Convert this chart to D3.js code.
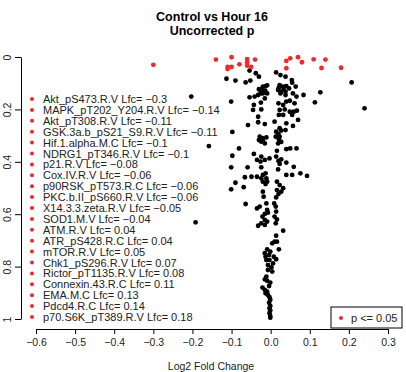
<!DOCTYPE html>
<html>
<head>
<meta charset="utf-8">
<script src="https://cdn.jsdelivr.net/npm/d3@7"></script>
<style>
  body { margin: 0; background: #fff; }
  svg { font-family: "Liberation Sans", Arial, sans-serif; }
</style>
</head>
<body>
<div id="chart"></div>
<script>
// significant proteins (p <= 0.05), sorted by log2 fold change
const sigNames = ["Akt_pS473.R.V", "MAPK_pT202_Y204.R.V", "Akt_pT308.R.V", "GSK.3a.b_pS21_S9.R.V",
  "Hif.1.alpha.M.C", "NDRG1_pT346.R.V", "p21.R.V", "Cox.IV.R.V", "p90RSK_pT573.R.C",
  "PKC.b.II_pS660.R.V", "X14.3.3.zeta.R.V", "SOD1.M.V", "ATM.R.V", "ATR_pS428.R.C",
  "mTOR.R.V", "Chk1_pS296.R.V", "Rictor_pT1135.R.V", "Connexin.43.R.C", "EMA.M.C",
  "Pdcd4.R.C", "p70.S6K_pT389.R.V"];
const sigLfc = [-0.3, -0.14, -0.11, -0.11, -0.1, -0.1, -0.08, -0.06, -0.06, -0.06, -0.05, -0.04,
  0.04, 0.04, 0.05, 0.07, 0.08, 0.11, 0.13, 0.14, 0.18];
const sigP = [0.030, 0.010, 0.046, 0.038, 0.001, 0.038, 0.028, 0.008, 0.033, 0.020, 0.038, 0.010,
  0.043, 0.015, 0.005, 0.001, 0.020, 0.009, 0.042, 0.010, 0.041];

// everything else (p > 0.05)
const otherLfc = [-0.054, -0.038, -0.030, 0.014, 0.025, 0.038, -0.113, -0.090, -0.064, -0.052,
  0.054, 0.055, 0.207, -0.009, -0.020, -0.030, -0.024, -0.013, -0.032, -0.020,
  0.023, 0.032, 0.040, 0.019, 0.027, 0.047, 0.064, 0.025, 0.038, 0.057,
  0.066, 0.084, 0.127, -0.203, -0.054, -0.041, -0.015, -0.101, -0.025, -0.043,
  0.040, 0.049, 0.061, 0.113, 0.020, 0.032, -0.045, -0.024, 0.023, 0.036,
  0.049, 0.059, 0.067, -0.032, 0.021, 0.032, 0.055, 0.070, -0.058, -0.032,
  -0.015, 0.010, 0.040, 0.057, 0.023, 0.014, 0.027, 0.038, -0.098, -0.028,
  -0.020, -0.011, -0.024, -0.015, 0.013, 0.021, 0.019, 0.027, -0.158, -0.081,
  0.016, 0.040, 0.050, 0.066, -0.098, -0.043, -0.024, -0.035, -0.026, -0.015,
  -0.003, 0.014, 0.020, 0.027, 0.040, 0.023, -0.101, -0.059, -0.024, 0.019,
  0.059, -0.066, -0.049, -0.035, -0.020, -0.013, -0.011, -0.020, -0.013, 0.040,
  0.055, 0.076, 0.093, -0.090, -0.069, -0.101, 0.016, 0.023, 0.032, 0.027,
  0.020, 0.014, -0.020, -0.018, -0.064, -0.035, -0.028, -0.011, -0.009, -0.015,
  -0.007, 0.009, 0.013, 0.014, 0.010, 0.016, -0.192, -0.015, -0.024, -0.015,
  -0.032, 0.013, 0.032, 0.014, 0.010, 0.004, 0.016, 0.021, -0.009, -0.015,
  -0.013, -0.004, 0.008, -0.003, 0.014, -0.007, 0.002, -0.007, 0.004, -0.015,
  -0.009, -0.001, -0.021, -0.015, -0.009, -0.007, -0.003, -0.001, -0.004, -0.001,
  -0.003, -0.001, -0.003, -0.001, -0.001, 0.240,
  -0.021, -0.014, -0.026, -0.009, 0.033, 0.038, 0.021, -0.030, -0.020, 0.020,
  0.023, -0.024, -0.009, 0.016, -0.021, -0.009, -0.001, 0.006, -0.011, -0.011,
  -0.004, -0.013];
const otherP = [0.052, 0.062, 0.075, 0.059, 0.069, 0.075, 0.083, 0.090, 0.097, 0.090,
  0.088, 0.098, 0.097, 0.108, 0.113, 0.123, 0.132, 0.111, 0.145, 0.139,
  0.107, 0.113, 0.111, 0.126, 0.132, 0.120, 0.113, 0.139, 0.145, 0.139,
  0.151, 0.145, 0.135, 0.151, 0.154, 0.151, 0.158, 0.170, 0.174, 0.183,
  0.170, 0.167, 0.177, 0.173, 0.177, 0.183, 0.202, 0.200, 0.202, 0.200,
  0.209, 0.209, 0.205, 0.228, 0.221, 0.221, 0.221, 0.240, 0.260, 0.249,
  0.256, 0.247, 0.253, 0.263, 0.272, 0.285, 0.281, 0.279, 0.286, 0.304,
  0.310, 0.307, 0.323, 0.330, 0.304, 0.314, 0.330, 0.324, 0.340, 0.349,
  0.358, 0.352, 0.349, 0.349, 0.377, 0.370, 0.380, 0.393, 0.399, 0.393,
  0.387, 0.380, 0.397, 0.391, 0.403, 0.408, 0.421, 0.421, 0.421, 0.429,
  0.419, 0.459, 0.457, 0.457, 0.450, 0.444, 0.463, 0.476, 0.485, 0.450,
  0.450, 0.444, 0.454, 0.480, 0.497, 0.505, 0.476, 0.489, 0.501, 0.514,
  0.523, 0.536, 0.514, 0.533, 0.561, 0.578, 0.571, 0.559, 0.584, 0.599,
  0.594, 0.559, 0.571, 0.590, 0.609, 0.620, 0.631, 0.622, 0.635, 0.641,
  0.644, 0.635, 0.663, 0.682, 0.705, 0.711, 0.705, 0.734, 0.734, 0.749,
  0.762, 0.756, 0.762, 0.775, 0.772, 0.794, 0.803, 0.813, 0.819, 0.849,
  0.854, 0.861, 0.880, 0.889, 0.896, 0.908, 0.917, 0.927, 0.938, 0.950,
  0.959, 0.968, 0.978, 0.989, 0.995, 0.196,
  0.123, 0.128, 0.139, 0.139, 0.123, 0.132, 0.116, 0.317, 0.319, 0.294,
  0.304, 0.463, 0.476, 0.508, 0.609, 0.628, 0.743, 0.788, 0.775, 0.838,
  0.874, 0.902];

const xTicks = [-0.6, -0.5, -0.4, -0.3, -0.2, -0.1, 0.0, 0.1, 0.2, 0.3];
const yTicks = [0, 0.2, 0.4, 0.6, 0.8, 1];

const width = 406, height = 372;
const red = "#ee2a2a";

const svg = d3.select("#chart").append("svg")
  .attr("width", width)
  .attr("height", height);

const x = d3.scaleLinear().domain([-0.6, 0.3]).range([36, 388]);
// p = 0 sits at the top
const y = d3.scaleLinear().domain([0, 1]).range([57, 319]);

// title
svg.append("text")
  .attr("x", 212).attr("y", 21)
  .attr("text-anchor", "middle")
  .style("font-weight", "bold").style("font-size", "12.5px")
  .text("Control vs Hour 16");
svg.append("text")
  .attr("x", 212).attr("y", 35)
  .attr("text-anchor", "middle")
  .style("font-weight", "bold").style("font-size", "12.5px")
  .text("Uncorrected p");

// x axis
const xAxis = svg.append("g")
  .attr("transform", "translate(0,329)")
  .call(d3.axisBottom(x).tickValues(xTicks).tickFormat(d3.format(".1f")).tickSize(5).tickSizeOuter(0));
xAxis.selectAll("text").style("font-size", "10.5px").attr("dy", "0.9em").attr("fill", "#222");

svg.append("text")
  .attr("x", 211).attr("y", 370)
  .attr("text-anchor", "middle")
  .style("font-size", "10.5px")
  .attr("fill", "#222")
  .text("Log2 Fold Change");

// y axis, labels turned like R does
const yAxis = svg.append("g")
  .attr("transform", "translate(21,0)")
  .call(d3.axisLeft(y).tickValues(yTicks).tickFormat(d3.format("")).tickSize(6).tickSizeOuter(0));
yAxis.selectAll("text")
  .attr("transform", "rotate(-90)")
  .attr("x", 0).attr("y", -10).attr("dy", 0)
  .attr("text-anchor", "middle")
  .attr("fill", "#222")
  .style("font-size", "10.5px");

// points
const others = otherLfc.map((d, i) => ({ lfc: d, p: otherP[i] }));
const sig = sigLfc.map((d, i) => ({ lfc: d, p: sigP[i], name: sigNames[i] }));

svg.append("g").selectAll("circle")
  .data(others)
  .enter().append("circle")
  .attr("cx", d => x(d.lfc))
  .attr("cy", d => y(d.p))
  .attr("r", 2.4)
  .attr("fill", "#000");

svg.append("g").selectAll("circle")
  .data(sig)
  .enter().append("circle")
  .attr("cx", d => x(d.lfc))
  .attr("cy", d => y(d.p))
  .attr("r", 2.4)
  .attr("fill", red);

// list of significant proteins
const fmt = d3.format("");
const rows = svg.append("g").selectAll("g")
  .data(sig)
  .enter().append("g")
  .attr("transform", (d, i) => "translate(32," + (99 + i * 10.9) + ")");
rows.append("circle").attr("r", 2).attr("fill", red);
rows.append("text")
  .attr("x", 11).attr("y", 4)
  .style("font-size", "11px")
  .attr("fill", "#222")
  .text(d => d.name + " Lfc= " + fmt(d.lfc));

// legend box
const leg = svg.append("g").attr("transform", "translate(331,307)");
leg.append("rect")
  .attr("width", 71).attr("height", 21)
  .attr("fill", "#fff").attr("stroke", "#000");
leg.append("circle").attr("cx", 10).attr("cy", 11).attr("r", 2).attr("fill", red);
leg.append("text")
  .attr("x", 20).attr("y", 15)
  .style("font-size", "11px")
  .attr("fill", "#222")
  .text("p <= 0.05");
</script>
</body>
</html>
